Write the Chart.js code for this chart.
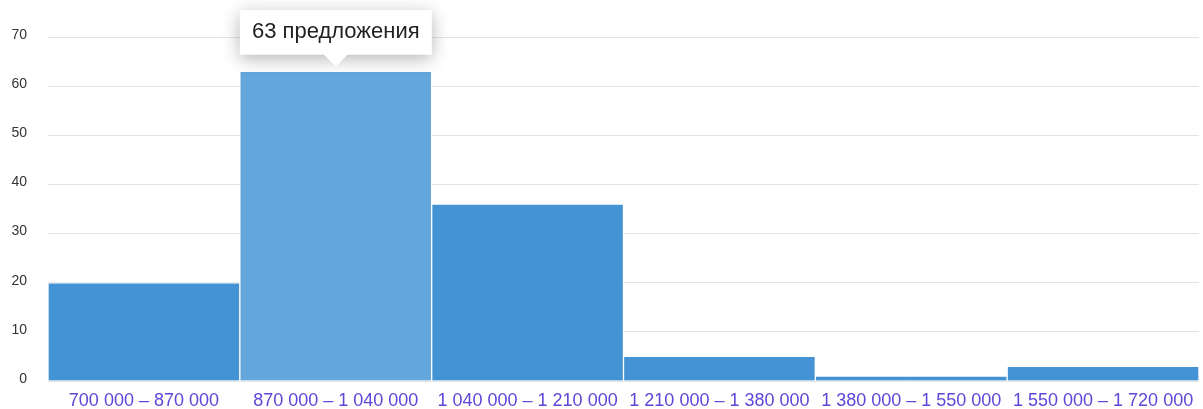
<!DOCTYPE html>
<html>
<head>
<meta charset="utf-8">
<script src="https://cdn.jsdelivr.net/npm/chart.js@4/dist/chart.umd.min.js"></script>
<style>
  html, body { margin: 0; padding: 0; background: #fff; }
  #wrap { width: 1203px; height: 409px; position: relative; }
</style>
</head>
<body>
<div id="wrap"><canvas id="c" width="1203" height="409"></canvas></div>
<script>
const categories = [
  '700 000 – 870 000',
  '870 000 – 1 040 000',
  '1 040 000 – 1 210 000',
  '1 210 000 – 1 380 000',
  '1 380 000 – 1 550 000',
  '1 550 000 – 1 720 000'
];
const offers = [20, 63, 36, 5, 1, 3];
const yTicks = [0, 10, 20, 30, 40, 50, 60, 70];
const highlightedIndex = 1;
const unitWord = 'предложения';

const shadowPlugin = {
  id: 'tooltipShadow',
  beforeTooltipDraw(chart, args) {
    const t = args.tooltip;
    const ctx = chart.ctx;
    ctx.save();
    ctx.shadowColor = 'rgba(0,0,0,0.30)';
    ctx.shadowBlur = 18;
    ctx.shadowOffsetY = 4;
    ctx.fillStyle = '#fff';
    ctx.fillRect(t.x, t.y, t.width, t.height);
    ctx.restore();
  }
};

const chart = new Chart(document.getElementById('c'), {
  type: 'bar',
  data: {
    labels: categories,
    datasets: [{
      data: offers,
      backgroundColor: '#4494d5',
      hoverBackgroundColor: '#64a7dc',
      borderColor: 'rgba(255,255,255,0.75)',
      hoverBorderColor: 'rgba(255,255,255,0.75)',
      borderWidth: 1,
      barPercentage: 1,
      categoryPercentage: 1
    }]
  },
  plugins: [shadowPlugin],
  options: {
    responsive: false,
    devicePixelRatio: 1,
    animation: false,
    events: [],
    layout: { padding: { top: 37, right: 4, left: 0, bottom: 0 } },
    plugins: {
      legend: { display: false },
      tooltip: {
        enabled: true,
        mode: 'index',
        intersect: false,
        xAlign: 'center',
        yAlign: 'bottom',
        backgroundColor: '#ffffff',
        bodyColor: '#222222',
        bodyFont: { family: '"Liberation Sans", Arial, sans-serif', size: 22 },
        padding: { x: 12, y: 9 },
        cornerRadius: 0,
        caretSize: 12,
        caretPadding: 5,
        displayColors: false,
        callbacks: {
          title: () => '',
          label: (ctx) => ctx.raw + ' ' + unitWord
        }
      }
    },
    scales: {
      x: {
        grid: { display: false, drawTicks: false },
        border: { display: false },
        ticks: {
          color: '#5f45d8',
          font: { family: '"Liberation Sans", Arial, sans-serif', size: 18 },
          padding: 9,
          maxRotation: 0,
          autoSkip: false
        },
        afterFit: (s) => { s.height = 28; }
      },
      y: {
        min: 0,
        max: 70,
        afterBuildTicks: (s) => { s.ticks = yTicks.map(v => ({ value: v })); },
        grid: { color: '#e4e4e4', lineWidth: 1, drawTicks: false },
        border: { display: false },
        ticks: {
          color: '#333333',
          font: { family: '"Liberation Sans", Arial, sans-serif', size: 14, lineHeight: 1 },
          padding: 21,
          labelOffset: -2
        },
        afterFit: (s) => { s.width = 48; }
      }
    }
  }
});

const active = [{ datasetIndex: 0, index: highlightedIndex }];
chart.setActiveElements(active);
chart.tooltip.setActiveElements(active, { x: 0, y: 0 });
chart.update();
</script>
</body>
</html>
